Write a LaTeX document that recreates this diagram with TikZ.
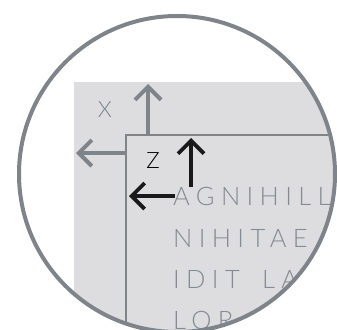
\documentclass[tikz,border=0pt]{standalone}
\usepackage{fontspec}
\setmainfont{Lato Light}
\newfontfamily\spacedfont[LetterSpace=25]{Lato Light}
\usetikzlibrary{arrows.meta}
\definecolor{ringgray}{HTML}{7F838A}
\definecolor{fillgray}{HTML}{DDDDE0}
\definecolor{textgray}{HTML}{868A91}
\tikzset{
  grayarrow/.style={draw=ringgray, line width=4pt, -{Straight Barb[length=13pt,width=26pt]}},
  blackarrow/.style={draw=black!90, line width=3.8pt, -{Straight Barb[length=13pt,width=26pt]}},
  bodytext/.style={anchor=base west, inner sep=0pt, text=textgray, font=\spacedfont\fontsize{25.5}{28}\selectfont},
  axislabel/.style={inner sep=0pt, font=\fontsize{22.5}{24}\selectfont},
}
\begin{document}
\begin{tikzpicture}[x=1pt,y=-1pt]
\useasboundingbox (0,0) rectangle (337,329);
\coordinate (c) at (177,174);
\begin{scope}
  \clip (c) circle (158);
  \fill[fillgray] (74,82) rectangle (340,340);
  \draw[ringgray, line width=2.3pt] (126,340) -- (126,135) -- (340,135);
  % gray axes
  \coordinate (gv0) at (148,135);
  \coordinate (gv1) at (148,84);
  \coordinate (gh0) at (126,153);
  \coordinate (gh1) at (76,153);
  \draw[grayarrow] (gv0) -- (gv1);
  \draw[grayarrow] (gh0) -- (gh1);
  \node[axislabel, text=ringgray] (xl) at (105,110) {X};
  % black axes
  \coordinate (bv0) at (191,187);
  \coordinate (bv1) at (191,138);
  \coordinate (bh0) at (175,196);
  \coordinate (bh1) at (129,196);
  \draw[blackarrow] (bv0) -- (bv1);
  \draw[blackarrow] (bh0) -- (bh1);
  \node[axislabel, text=black] (zl) at (153,161) {Z};
  % text
  \node[bodytext] (t1) at (173,205) {AGNIHILL};
  \node[bodytext] (t2) at (173,247) {NIHITAE};
  \node[bodytext] (t3) at (173,288) {IDIT\hspace{9pt} LA};
  \node[bodytext] (t4) at (173,329) {LOR};
\end{scope}
\draw[ringgray, line width=4pt] (c) circle (158);
\end{tikzpicture}
\end{document}
